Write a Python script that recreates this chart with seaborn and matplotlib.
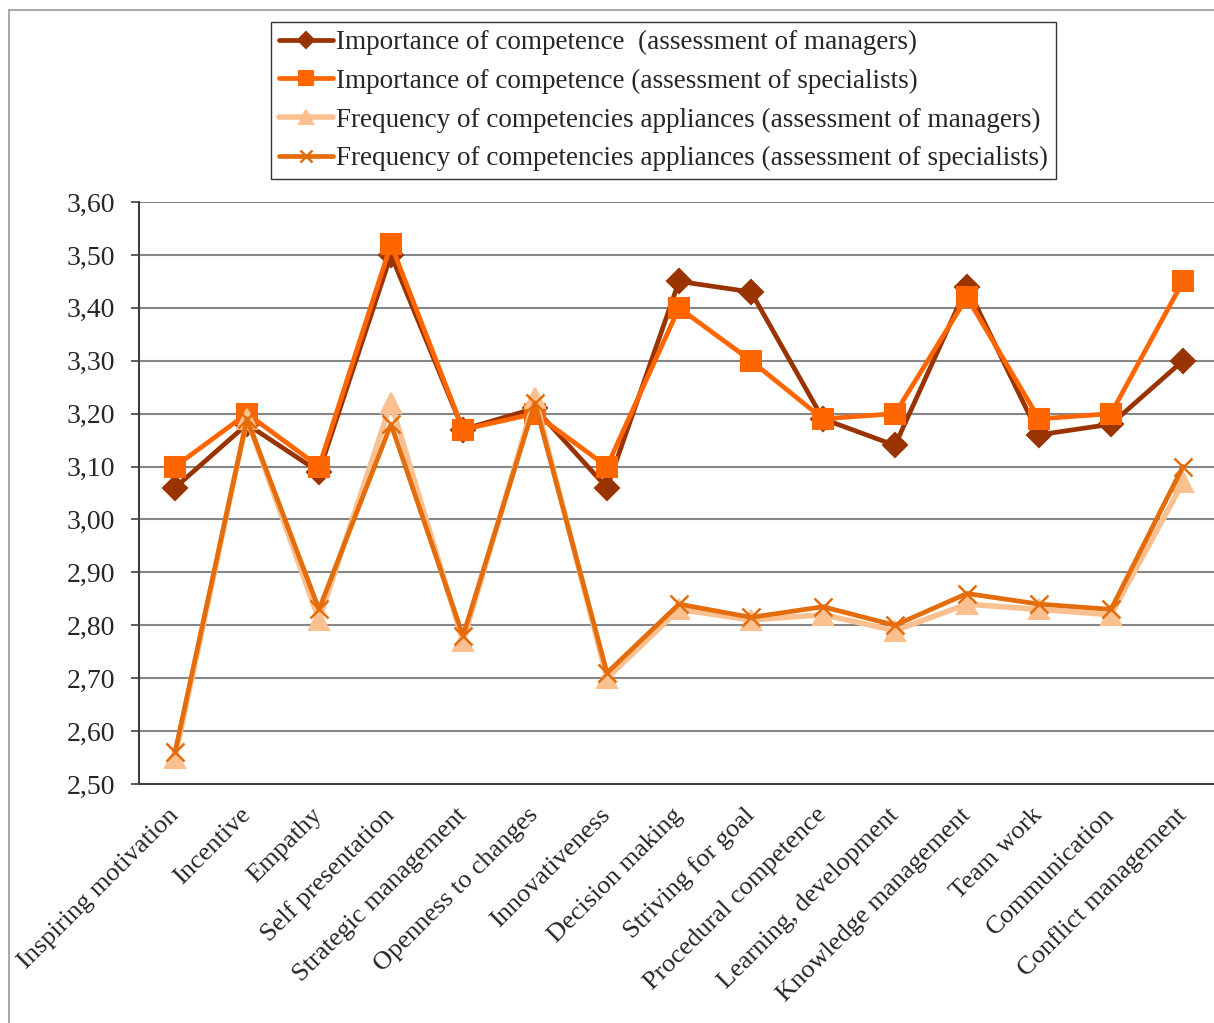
import numpy as np
import pandas as pd
import seaborn as sns
import matplotlib.pyplot as plt
from matplotlib.lines import Line2D
from matplotlib.ticker import FuncFormatter, MultipleLocator

categories = ['Inspiring motivation', 'Incentive', 'Empathy', 'Self presentation',
              'Strategic management', 'Openness to changes', 'Innovativeness',
              'Decision making', 'Striving for goal', 'Procedural competence',
              'Learning, development', 'Knowledge management', 'Team work',
              'Communication', 'Conflict management']

imp_managers = [3.06, 3.18, 3.09, 3.50, 3.17, 3.21, 3.06, 3.45, 3.43, 3.19, 3.14, 3.44, 3.16, 3.18, 3.30]
imp_specialists = [3.10, 3.20, 3.10, 3.52, 3.17, 3.20, 3.10, 3.40, 3.30, 3.19, 3.20, 3.42, 3.19, 3.20, 3.45]
freq_managers = [2.55, 3.19, 2.81, 3.22, 2.77, 3.23, 2.70, 2.83, 2.81, 2.82, 2.79, 2.84, 2.83, 2.82, 3.07]
freq_specialists = [2.56, 3.19, 2.83, 3.18, 2.78, 3.22, 2.71, 2.84, 2.815, 2.835, 2.80, 2.86, 2.84, 2.83, 3.10]

labels = ['Importance of competence  (assessment of managers)',
          'Importance of competence (assessment of specialists)',
          'Frequency of competencies appliances (assessment of managers)',
          'Frequency of competencies appliances (assessment of specialists)']

sns.set_style('white')
plt.rcParams['font.family'] = ['Liberation Serif', 'DejaVu Serif']

W, H = 1214, 1023
fig = plt.figure(figsize=(W / 100, H / 100), dpi=100)
ax = fig.add_axes([139 / W, 1 - 784 / H, 1080 / W, (784 - 202) / H])

pos = np.arange(len(categories))
styles = [
    (imp_managers, '#993300', 'D', 12, 3.4, 1.5),
    (imp_specialists, '#FF6600', 's', 14, 3.4, 1.5),
    (freq_managers, '#FAC090', '^', 15, 4.0, 1.5),
    (freq_specialists, '#E46C0A', 'x', 13, 3.4, 1.8),
]
handles = []
for (vals, col, mk, ms, lw, mew), lab in zip(styles, labels):
    df = pd.DataFrame({'pos': pos, 'val': vals})
    sns.lineplot(data=df, x='pos', y='val', ax=ax, color=col, marker=mk,
                 markersize=ms, linewidth=lw, markeredgewidth=mew,
                 markeredgecolor=col, markerfacecolor=col, sort=False)
    handles.append(Line2D([0], [0], color=col, marker=mk, markersize=ms * 0.7,
                          linewidth=lw, markeredgecolor=col, markeredgewidth=mew))

ax.set_xlim(-0.5, len(categories) - 0.5)
ax.set_ylim(2.5, 3.6)
ax.yaxis.set_major_locator(MultipleLocator(0.1))
ax.yaxis.set_major_formatter(FuncFormatter(lambda v, p: f'{v:.2f}'.replace('.', ',')))
ax.grid(axis='y', color='#868686', linewidth=1.5)
ax.set_axisbelow(True)
ax.set_xlabel('')
ax.set_ylabel('')

ax.set_xticks(pos)
ax.set_xticklabels(categories, rotation=45, ha='right', va='center',
                   rotation_mode='anchor', fontsize=19)
ax.set_xticks(np.arange(-0.5, len(categories), 1), minor=True)
ax.tick_params(axis='x', which='major', length=0, pad=20)
ax.tick_params(axis='x', which='minor', length=6, width=1.2, color='#404040', direction='out')
ax.tick_params(axis='y', length=6, width=1.2, color='#404040', direction='out',
               labelsize=20, pad=11, left=True)

for side in ['top', 'right']:
    ax.spines[side].set_visible(False)
for side in ['left', 'bottom']:
    ax.spines[side].set_color('#404040')
    ax.spines[side].set_linewidth(1.5)

leg = fig.legend(handles, labels, loc='upper left',
                 bbox_to_anchor=(271 / W, 1 - 22 / H), borderaxespad=0,
                 fontsize=19.5, frameon=True, fancybox=False, handlelength=2.0,
                 handletextpad=0.1, labelspacing=0.5, borderpad=0.3)
leg.get_frame().set_edgecolor('black')
leg.get_frame().set_linewidth(1.0)

# outer chart border
fig.add_artist(Line2D([9 / W, 9 / W], [1 - 10 / H, 0], transform=fig.transFigure,
                      color='#9a9a9a', linewidth=1.2))
fig.add_artist(Line2D([9 / W, 1], [1 - 10 / H, 1 - 10 / H], transform=fig.transFigure,
                      color='#9a9a9a', linewidth=1.2))

fig.savefig('out.png', dpi=100)
